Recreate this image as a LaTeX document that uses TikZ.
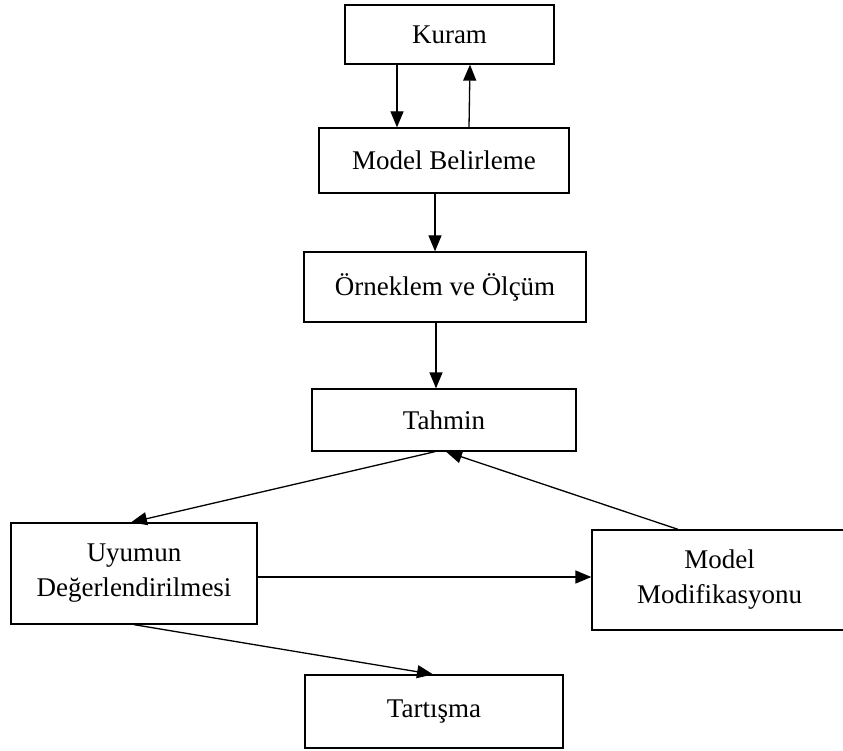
\documentclass[tikz,border=0pt]{standalone}
\usepackage{fontspec}
\setmainfont{Liberation Serif}
\usetikzlibrary{arrows.meta}
\begin{document}
\begin{tikzpicture}[x=1pt,y=-1pt,
  box/.style={draw=black,line width=1.3pt,inner sep=0pt,align=center,
    font=\fontsize{27}{35}\selectfont},
  arr/.style={draw=black,line width=1.3pt,-{Triangle[length=16pt,width=13pt]}}]
\useasboundingbox[fill=white] (0,0) rectangle (843,751);
\node[box,minimum width=209pt,minimum height=59pt] (kuram) at (449.5,34.5) {Kuram};
\node[box,minimum width=250pt,minimum height=65pt] (mb) at (444,160.5) {Model Belirleme};
\node[box,minimum width=282pt,minimum height=70pt] (ork) at (445,287) {Örneklem ve Ölçüm};
\node[box,minimum width=264pt,minimum height=62pt] (tah) at (444,420) {Tahmin};
\node[box,minimum width=246pt,minimum height=101pt] (uyum) at (134,573.5) {Uyumun\\Değerlendirilmesi};
\node[box,minimum width=255pt,minimum height=100pt] (mod) at (719.5,580) {Model\\Modifikasyonu};
\node[box,minimum width=258pt,minimum height=73pt] (tart) at (434,711.5) {Tartışma};
\draw[arr] ([xshift=-52.5pt]kuram.south) -- ([xshift=-47pt]mb.north);
\draw[arr] ([xshift=25pt]mb.north) -- ([xshift=20.5pt]kuram.south);
\draw[arr] ([xshift=-9pt]mb.south) -- ([xshift=-10pt]ork.north);
\draw[arr] ([xshift=-9pt]ork.south) -- ([xshift=-8pt]tah.north);
\draw[arr] ([xshift=-9pt]tah.south) -- ([xshift=-3pt]uyum.north);
\draw[arr] ([xshift=-41.5pt]mod.north) -- ([xshift=2pt]tah.south);
\draw[arr] ([yshift=-3.5pt]uyum.east) -- ([yshift=3pt]mod.west);
\draw[arr] (uyum.south) -- ([xshift=-1pt]tart.north);
\end{tikzpicture}
\end{document}
